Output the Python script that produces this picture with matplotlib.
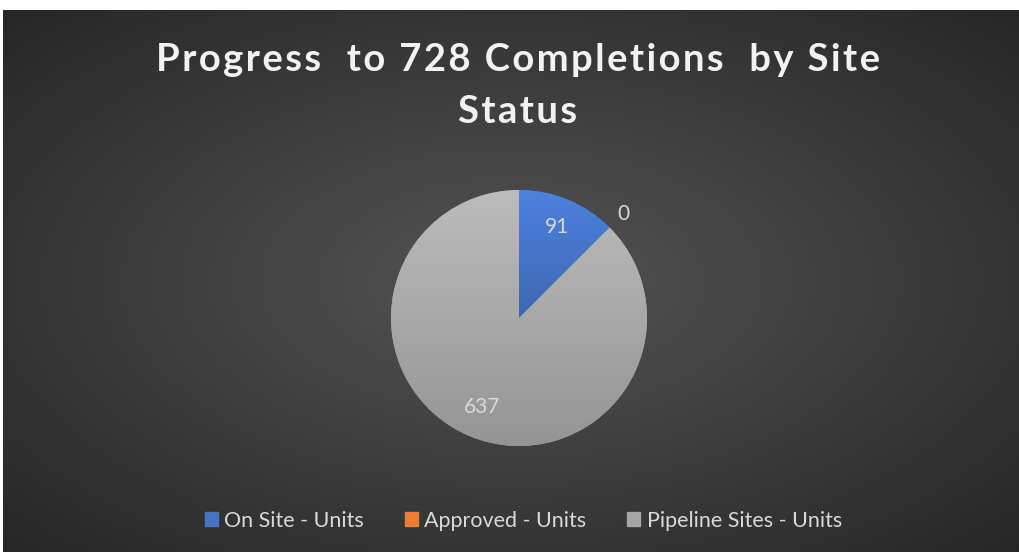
import numpy as np
import matplotlib.pyplot as plt
from matplotlib.patches import Rectangle
from matplotlib.colors import to_rgb

title_lines = ['Progress  to 728 Completions  by Site', 'Status']
labels = ['On Site - Units', 'Approved - Units', 'Pipeline Sites - Units']
values = [91, 0, 637]
colors = ['#4472C4', '#ED7D31', '#A5A5A5']

W, H = 1020, 552
fig = plt.figure(figsize=(W/100, H/100), dpi=100)
fig.patch.set_facecolor('white')

# dark radial gradient background
bg = fig.add_axes([3/W, 0, 1017/W, 542/H])
yy, xx = np.mgrid[-1:1:300j, -1:1:560j]
r = np.sqrt(xx**2 + yy**2) / np.sqrt(2)
shade = 0.33 - 0.18 * r
bg.imshow(np.dstack([shade, shade, shade]), aspect='auto', extent=[0, 1, 0, 1])
bg.set_axis_off()

# title, with a bit of letter spacing via hair spaces
def spaced(s):
    return '\u200a'.join(s)

for line, base in zip(title_lines, [71, 123]):
    fig.text(518/W, 1 - base/H, spaced(line), ha='center', va='baseline',
             color='#F2F2F2', fontsize=27.5, fontweight='bold',
             family=['Lato', 'DejaVu Sans'])

cx, cy, rad = 519, 318, 128
ax = fig.add_axes([(cx-rad)/W, (H-cy-rad)/H, 2*rad/W, 2*rad/H])
wedges, _ = ax.pie(values, colors=colors, startangle=90, counterclock=False,
                   radius=1, wedgeprops=dict(linewidth=0))

# soft vertical gradient on each slice (lighter at top)
for w, c in zip(wedges, colors):
    if w.theta1 == w.theta2:
        continue
    base = np.array(to_rgb(c))
    g = np.linspace(1.14, 0.90, 200)[:, None, None] * base[None, None, :]
    g = np.clip(np.repeat(g, 2, axis=1), 0, 1)
    ys = w.get_path().vertices[:, 1]
    im = ax.imshow(g, extent=[-1, 1, ys.min(), ys.max()], aspect='auto',
                   zorder=w.get_zorder() + 0.1)
    im.set_clip_path(w)
ax.set_xlim(-1, 1)
ax.set_ylim(-1, 1)
ax.set_aspect('equal')

dists = [0.77, 1.15, 0.75]
for w, v, d in zip(wedges, values, dists):
    ang = np.deg2rad((w.theta1 + w.theta2) / 2)
    ax.text(d*np.cos(ang), d*np.sin(ang), str(v), ha='center', va='center',
            color='#D9D9D9', fontsize=15, family='Lato', zorder=5)

handles = [Rectangle((0, 0), 1, 1, color=c) for c in colors]
leg = fig.legend(handles, labels, loc='center', bbox_to_anchor=(0.513, 0.057),
                 ncol=3, frameon=False, handlelength=0.6,
                 handleheight=0.6, handletextpad=0.3, columnspacing=1.9,
                 prop=dict(family='Lato', size=15.5))
for t in leg.get_texts():
    t.set_color('#D9D9D9')

fig.savefig('out.png', dpi=100, facecolor=fig.get_facecolor())
